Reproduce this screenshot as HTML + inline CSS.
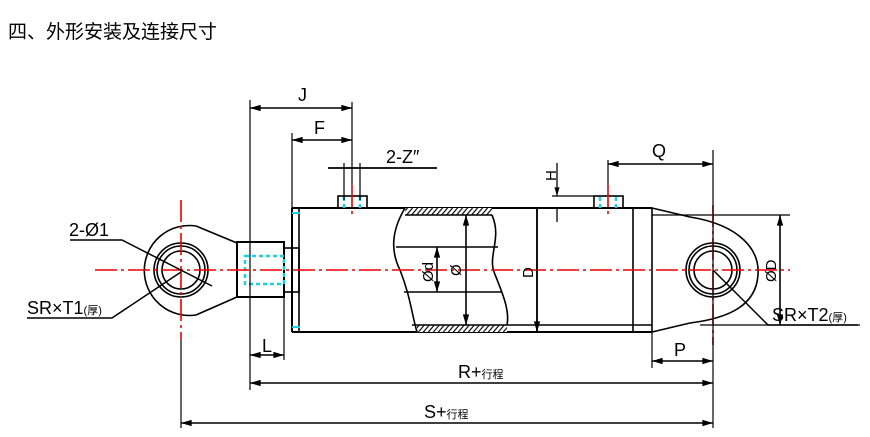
<!DOCTYPE html>
<html><head><meta charset="utf-8"><style>
html,body{margin:0;padding:0;background:#fff;}
svg{display:block;}
text{font-family:"Liberation Sans","Noto Sans CJK SC",sans-serif;fill:#000;}
</style></head><body>
<svg width="870" height="437" viewBox="0 0 870 437" xmlns="http://www.w3.org/2000/svg">
<defs>
<marker id="a" viewBox="0 0 10 6" refX="10" refY="3" markerWidth="8" markerHeight="4" orient="auto-start-reverse"><path d="M0,0L10,3L0,6z" fill="#000"/></marker>
<pattern id="h" width="5" height="7" patternUnits="userSpaceOnUse" patternTransform="skewX(-40)"><rect width="5" height="7" fill="#fff"/><line x1="2" y1="0" x2="2" y2="7" stroke="#000" stroke-width="1.5"/></pattern>
</defs>
<text x="8" y="38" font-size="19" font-family="'Noto Sans CJK SC',sans-serif">四、外形安装及连接尺寸</text>
<g stroke="#000" stroke-width="1.6" fill="none">
<!-- left eye -->
<path d="M196,226 L237,243 M196,315 L237,297"/>
<path d="M196,226 A45,45 0 1 0 196,315"/>
<circle cx="181" cy="270" r="27"/><circle cx="181" cy="270" r="24"/><circle cx="181" cy="270" r="19"/>
<!-- rod end block -->
<rect x="237" y="242" width="47" height="55" stroke-width="2"/>
<rect x="284" y="248" width="15" height="44"/>
<!-- body -->
<path d="M292,208 H652 M292,332 H652 M292,208 V332" stroke-width="2"/>
<line x1="299" y1="208" x2="299" y2="332"/>
<rect x="338" y="196" width="29" height="12"/>
<rect x="594" y="196" width="29" height="12"/>
<line x1="537" y1="208" x2="537" y2="332"/>
<line x1="633" y1="208" x2="633" y2="332"/>
<line x1="652" y1="208" x2="652" y2="332"/>
<!-- break section -->
<rect x="405" y="208" width="87" height="7" fill="url(#h)" stroke="none"/>
<rect x="417" y="325" width="90" height="7" fill="url(#h)" stroke="none"/>
<path d="M405,208 C392,230 390,250 400,270 C410,295 412,315 417,332" fill="#fff"/>
<path d="M492,215 C502,238 488,255 494,272 C502,292 510,310 507,325"/>
<line x1="396" y1="247" x2="498" y2="247"/><line x1="404" y1="292" x2="502" y2="292"/>
<line x1="412" y1="325" x2="652" y2="325"/>
<line x1="405" y1="215" x2="492" y2="215"/>
<!-- right cap/eye -->
<path d="M652,208 L690,217 C740,225 760,250 758,275 C756,305 730,318 690,323 L652,332"/>
<circle cx="713" cy="270" r="27"/><circle cx="713" cy="270" r="24"/><circle cx="713" cy="270" r="19"/>
<line x1="652" y1="215" x2="790" y2="215" stroke-width="1.2"/>
<line x1="700" y1="325" x2="860" y2="325" stroke-width="1.2"/>
</g>
<!-- cyan -->
<g stroke="#1cd0e0" stroke-width="2.5" fill="none" stroke-dasharray="4,3">
<rect x="245" y="256" width="39" height="28"/>
<line x1="344" y1="197" x2="344" y2="208"/><line x1="360" y1="197" x2="360" y2="208"/>
<line x1="600" y1="197" x2="600" y2="208"/><line x1="616" y1="197" x2="616" y2="208"/>
</g>
<g stroke="#1cd0e0" stroke-width="2"><line x1="292" y1="213" x2="300" y2="213"/><line x1="292" y1="327" x2="300" y2="327"/></g>
<!-- red centre lines -->
<g stroke="#e00" stroke-width="1.6" fill="none" stroke-dasharray="22,4,3,4">
<line x1="95" y1="270" x2="790" y2="270"/>
<line x1="181" y1="200" x2="181" y2="340"/>
<line x1="713" y1="205" x2="713" y2="345"/>
<line x1="352" y1="185" x2="352" y2="215"/>
<line x1="608" y1="185" x2="608" y2="218"/>
</g>
<!-- dimensions -->
<g stroke="#000" stroke-width="1.2" fill="none">
<line x1="250" y1="100" x2="250" y2="390"/>
<line x1="352" y1="102" x2="352" y2="185"/>
<line x1="292" y1="133" x2="292" y2="208"/>
<line x1="284" y1="297" x2="284" y2="360"/>
<line x1="181" y1="340" x2="181" y2="428"/>
<line x1="713" y1="150" x2="713" y2="428"/>
<line x1="608" y1="160" x2="608" y2="185"/>
<line x1="652" y1="332" x2="652" y2="368"/>
<line x1="552" y1="196" x2="594" y2="196"/>
<g stroke-width="1.6" marker-start="url(#a)" marker-end="url(#a)">
<line x1="250" y1="108" x2="352" y2="108"/>
<line x1="292" y1="140" x2="352" y2="140"/>
<line x1="608" y1="164" x2="713" y2="164"/>
<line x1="652" y1="361" x2="713" y2="361"/>
<line x1="250" y1="355" x2="284" y2="355"/>
<line x1="250" y1="383" x2="713" y2="383"/>
<line x1="181" y1="423" x2="713" y2="423"/>
<line x1="437" y1="247" x2="437" y2="292"/>
<line x1="466" y1="215" x2="466" y2="325"/>
<line x1="537" y1="208" x2="537" y2="332" marker-start="none"/>
<line x1="780" y1="215" x2="780" y2="325"/>
</g>
<line x1="557" y1="163" x2="557" y2="196" marker-end="url(#a)" stroke-width="1.3"/>
<line x1="557" y1="208" x2="557" y2="222" stroke-width="1.3"/>
<line x1="328" y1="168" x2="437" y2="168" stroke-width="1.8"/>
<line x1="344" y1="163" x2="344" y2="200"/><line x1="360" y1="163" x2="360" y2="200"/>
<!-- leaders -->
<path d="M70,240 H122 L212,286" stroke-width="1.5"/>
<path d="M27,318 H112 L181,272" stroke-width="1.5"/>
<path d="M713,270 L768,325 H858" stroke-width="1.5"/>
</g>
<g font-size="18">
<text x="298" y="101">J</text>
<text x="314" y="134">F</text>
<text x="386" y="163">2-Z″</text>
<text x="652" y="157">Q</text>
<text x="674" y="356">P</text>
<text x="262" y="352">L</text>
<text x="69" y="236">2-Ø1</text>
<text x="27" y="314">SR×T1<tspan font-size="11">(厚)</tspan></text>
<text x="772" y="321">SR×T2<tspan font-size="11">(厚)</tspan></text>
<text x="458" y="378">R+<tspan font-size="11">行程</tspan></text>
<text x="424" y="418">S+<tspan font-size="11">行程</tspan></text>
<text transform="translate(556,181) rotate(-90)" font-size="15">H</text>
<text transform="translate(433,282) rotate(-90)" font-size="15">Ød</text>
<text transform="translate(461,276) rotate(-90)" font-size="15">Ø</text>
<text transform="translate(533,278) rotate(-90)" font-size="15">D</text>
<text transform="translate(776,282) rotate(-90)" font-size="15">ØD</text>
</g>
</svg>
</body></html>
